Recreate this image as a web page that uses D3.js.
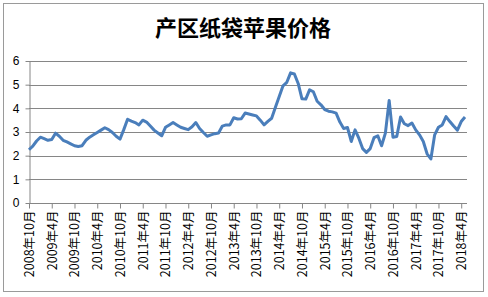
<!DOCTYPE html>
<html>
<head>
<meta charset="utf-8">
<script src="https://cdn.jsdelivr.net/npm/d3@7"></script>
<style>
  body { margin: 0; background: #fff; }
  svg { display: block; }
  .grid line { stroke: #868686; stroke-width: 1; }
  .axis path, .axis line { stroke: #868686; }
  .axis text { fill: #000; font-family: "Liberation Sans", Arial, sans-serif; font-size: 12px; }
</style>
</head>
<body>
<svg id="canvas" width="488" height="297"></svg>
<script>

var title = "产区纸袋苹果价格";

// first month of the series: 2008年10月, monthly
var startYear = 2008, startMonth = 10;

var prices = [
	2.25, 2.40, 2.62, 2.78, 2.72, 2.65, 2.68, 2.95, 2.82, 2.65,
	2.58, 2.50, 2.42, 2.39, 2.42, 2.65, 2.78, 2.88, 2.98, 3.08,
	3.18, 3.10, 2.98, 2.82, 2.70, 3.10, 3.54, 3.46, 3.40, 3.30,
	3.50, 3.42, 3.25, 3.08, 2.96, 2.84, 3.20, 3.30, 3.40, 3.30,
	3.20, 3.15, 3.10, 3.22, 3.40, 3.15, 2.98, 2.82, 2.88, 2.93,
	2.96, 3.25, 3.30, 3.30, 3.60, 3.55, 3.56, 3.80, 3.76, 3.72,
	3.68, 3.50, 3.30, 3.45, 3.58, 4.05, 4.50, 4.95, 5.10, 5.50,
	5.45, 5.05, 4.40, 4.39, 4.78, 4.70, 4.30, 4.15, 3.95, 3.88,
	3.85, 3.80, 3.42, 3.15, 3.19, 2.60, 3.09, 2.74, 2.30, 2.14,
	2.30, 2.76, 2.84, 2.42, 2.95, 4.33, 2.78, 2.81, 3.63, 3.35,
	3.27, 3.38, 3.09, 2.88, 2.60, 2.08, 1.86, 2.88, 3.20, 3.30,
	3.65, 3.44, 3.25, 3.08, 3.44, 3.63
];

var yTicks = [0, 1, 2, 3, 4, 5, 6];

// month labels, one every six months
var months = prices.map(function(d, i) {
	var m = startMonth - 1 + i;
	return (startYear + Math.floor(m / 12)) + "年" + (m % 12 + 1) + "月";
});

var svg = d3.select("#canvas");

// chart border
svg.append("rect")
	.attr("x", 3.5).attr("y", 3.5)
	.attr("width", 480).attr("height", 288)
	.attr("fill", "#fff")
	.attr("stroke", "#9a9a9a");

svg.append("text")
	.attr("x", 243).attr("y", 36)
	.attr("text-anchor", "middle")
	.style("font-family", "'Noto Sans CJK SC', sans-serif")
	.style("font-size", "22px")
	.style("font-weight", "bold")
	.text(title);

var plot = {left: 29, right: 465, top: 61, bottom: 203};

var x = d3.scaleLinear()
	.domain([0, prices.length - 1])
	.range([plot.left, plot.right]);

var y = d3.scaleLinear()
	.domain([0, 6])
	.range([plot.bottom, plot.top]);

// gridlines
svg.append("g")
	.attr("class", "grid")
	.selectAll("line")
	.data(yTicks.slice(1))
	.enter().append("line")
	.attr("x1", plot.left).attr("x2", plot.right + 2)
	.attr("y1", function(d) { return Math.round(y(d)) + 0.5; })
	.attr("y2", function(d) { return Math.round(y(d)) + 0.5; });

// y axis
var yAxis = svg.append("g")
	.attr("class", "axis")
	.attr("transform", "translate(" + (plot.left + 0.5) + ",0)")
	.call(d3.axisLeft(y).tickValues(yTicks).tickFormat(d3.format("d"))
		.tickSize(4).tickSizeOuter(0).tickPadding(6));

// x axis
var labelIdx = d3.range(0, prices.length, 6);
var xAxis = svg.append("g")
	.attr("class", "axis")
	.attr("transform", "translate(0," + (Math.round(plot.bottom) + 0.5) + ")")
	.call(d3.axisBottom(x)
		.tickValues(labelIdx)
		.tickFormat(function(i) { return months[i]; })
		.tickSize(5).tickSizeOuter(0));

xAxis.select(".domain").attr("d", "M" + plot.left + ",0H" + (plot.right + 2));

xAxis.selectAll("text")
	.attr("transform", "rotate(-90)")
	.attr("x", -7)
	.attr("y", 0)
	.attr("dy", "0.35em")
	.style("text-anchor", "end")
	.style("font-family", "'Noto Sans CJK SC', 'Liberation Sans', sans-serif")
	.style("font-size", "12.5px");

// price line
var line = d3.line()
	.x(function(d, i) { return x(i); })
	.y(function(d) { return y(d); });

svg.append("path")
	.datum(prices)
	.attr("fill", "none")
	.attr("stroke", "#4a7ebb")
	.attr("stroke-width", 3)
	.attr("stroke-linejoin", "round")
	.attr("d", line);

</script>
</body>
</html>
